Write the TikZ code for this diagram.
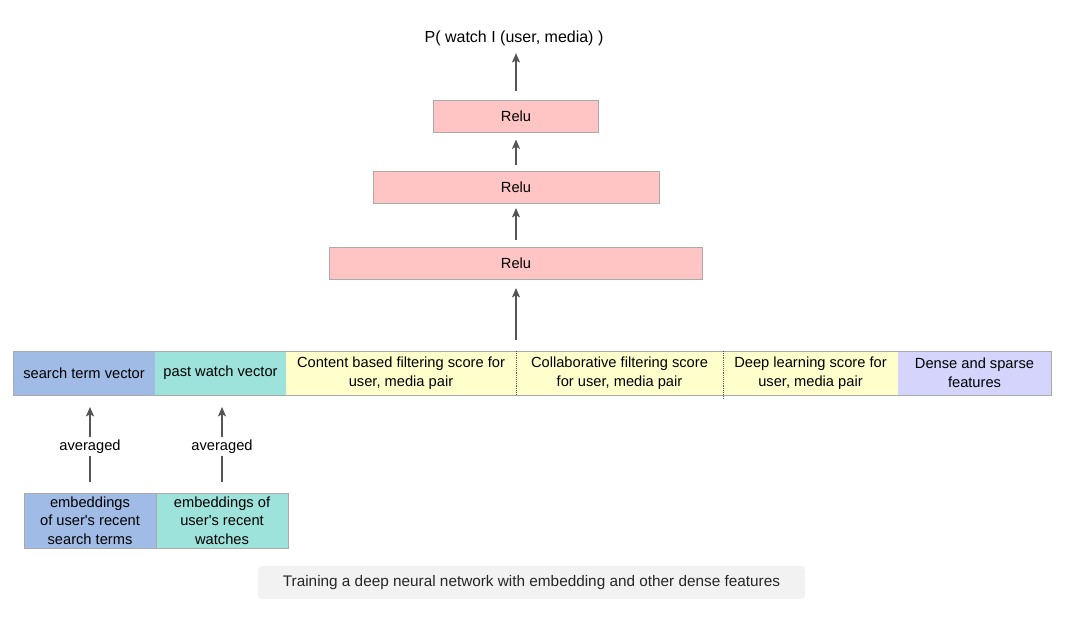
\documentclass[tikz,border=0pt]{standalone}
\usepackage{fontspec}
\defaultfontfeatures[\rmfamily]{}
\setmainfont{Liberation Sans}
\usetikzlibrary{positioning,arrows.meta}
\definecolor{searchblue}{RGB}{160,188,230}
\definecolor{watchteal}{RGB}{158,227,219}
\definecolor{scoreyellow}{RGB}{255,255,204}
\definecolor{denselilac}{RGB}{212,212,252}
\definecolor{relupink}{RGB}{255,196,196}
\definecolor{edgegray}{RGB}{170,170,170}
\definecolor{arrowgray}{RGB}{85,85,85}
\definecolor{notegray}{RGB}{242,242,242}
\def\px{0.75pt}

\begin{document}
\begin{tikzpicture}[x=0.75pt,y=-0.75pt,font=\fontsize{11}{14}\selectfont,
  seg/.style={outer sep=0pt,inner sep=0pt,align=center,minimum height=44*\px},
  relu/.style={draw=edgegray,fill=relupink,outer sep=0pt,minimum height=32*\px},
  up/.style={-{Stealth[length=7pt,width=6pt,inset=1.5pt]},draw=arrowgray,line width=0.8pt}]
\useasboundingbox (0,0) rectangle (1073,619);

% output and the three relu layers
\node[font=\fontsize{12}{14}\selectfont] (out) at (514,38) {P( watch I (user, media) )};
\node[relu,minimum width=165*\px] (r3) at (516,116.5) {Relu};
\node[relu,minimum width=286*\px] (r2) at (516,187) {Relu};
\node[relu,minimum width=373*\px] (r1) at (516,263) {Relu};

% feature bar
\node[seg,fill=searchblue,minimum width=142*\px,anchor=west] (st) at (13,373) {search term vector};
\node[seg,fill=watchteal,minimum width=131*\px,right=0pt of st] (pw) {past watch vector};
\node[seg,fill=scoreyellow,minimum width=230*\px,right=0pt of pw] (cb) {Content based filtering score for\\user, media pair};
\node[seg,fill=scoreyellow,minimum width=207*\px,right=0pt of cb] (cf) {Collaborative filtering score\\for user, media pair};
\node[seg,fill=scoreyellow,minimum width=175*\px,right=0pt of cf] (dl) {Deep learning score for\\user, media pair};
\node[seg,fill=denselilac,minimum width=153*\px,right=0pt of dl] (ds) {Dense and sparse\\features};
\draw[edgegray] (st.north west) rectangle (ds.south east);
\draw[arrowgray,densely dotted] (cb.north east) -- (cb.south east);
\draw[arrowgray,densely dotted] (cf.north east) -- ([yshift=-4*\px]cf.south east);

% embeddings
\node[seg,fill=searchblue,draw=edgegray,minimum width=132*\px,minimum height=55*\px,anchor=north west] (es) at (24,493) {embeddings\\of user's recent\\search terms};
\node[seg,fill=watchteal,draw=edgegray,minimum width=132*\px,minimum height=55*\px,right=0pt of es] (ew) {embeddings of\\user's recent\\watches};

% arrows
\draw[up,shorten <=11*\px,shorten >=12*\px] (es.north) -- (es.north |- st.south) node[pos=0.47,fill=white,inner sep=2pt] {averaged};
\draw[up,shorten <=11*\px,shorten >=12*\px] (ew.north) -- (ew.north |- pw.south) node[pos=0.47,fill=white,inner sep=2pt] {averaged};
\draw[up,shorten <=11*\px,shorten >=9*\px] (cb.north east) -- (r1.south);
\draw[up,shorten <=7*\px,shorten >=5*\px] (r1.north) -- (r2.south);
\draw[up,shorten <=6*\px,shorten >=7*\px] (r2.north) -- (r3.south);
\draw[up,shorten <=10*\px,shorten >=3*\px] (r3.north) -- (r3.north |- out.south);

% caption
\node[fill=notegray,rounded corners=3pt,minimum width=547*\px,minimum height=33*\px,font=\fontsize{11.5}{13}\selectfont,text=black!85] (cap) at (531.5,582.5) {Training a deep neural network with embedding and other dense features};
\end{tikzpicture}
\end{document}
